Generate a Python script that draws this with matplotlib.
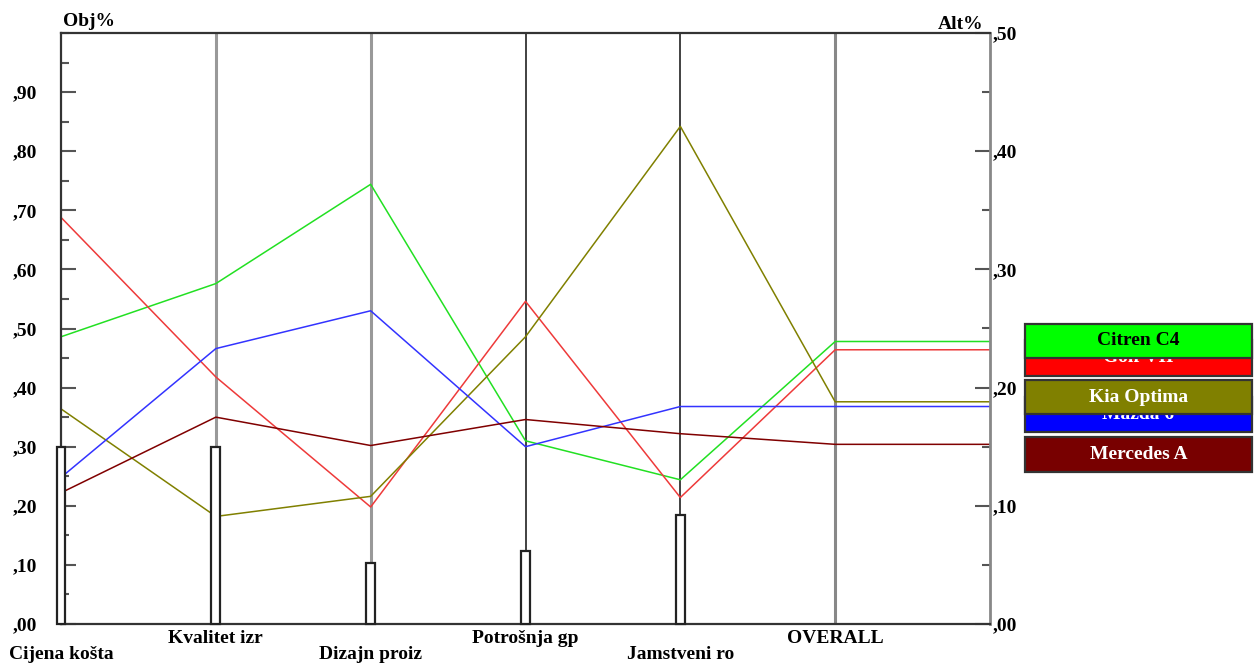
import matplotlib
matplotlib.use("Agg")
import matplotlib.pyplot as plt
from matplotlib.patches import Rectangle
from matplotlib.ticker import MultipleLocator, FuncFormatter, FixedLocator

# criteria along the x axis and their weights (left axis, Obj%)
criteria = ["Cijena košta", "Kvalitet izr", "Dizajn proiz", "Potrošnja gp", "Jamstveni ro", "OVERALL"]
obj_weights = [0.30, 0.30, 0.103, 0.124, 0.185]

# alternative priorities per criterion (right axis, Alt%), last value = overall
alternatives = ["Citren C4", "Golf VII", "Kia Optima", "Mazda 6", "Mercedes A"]
citren = [0.243, 0.288, 0.372, 0.155, 0.122, 0.239]
golf = [0.344, 0.209, 0.099, 0.273, 0.107, 0.232]
kia = [0.182, 0.091, 0.108, 0.243, 0.421, 0.188]
mazda = [0.124, 0.233, 0.265, 0.150, 0.184, 0.184]
mercedes = [0.111, 0.175, 0.151, 0.173, 0.161, 0.152]

line_colors = ["#22e022", "#ee3a3a", "#808000", "#3333ff", "#800000"]
box_colors = ["#00ff00", "#ff0000", "#808000", "#0000ff", "#780000"]
text_colors = ["black", "white", "white", "white", "white"]

font = dict(family="Liberation Serif", weight="bold", size=14)

fig = plt.figure(figsize=(12.56, 6.64), dpi=100)
W, H = 1256.0, 664.0
ax = fig.add_axes([61 / W, 40 / H, 929 / W, 591 / H])
ax2 = ax.twinx()
ax.set_zorder(ax2.get_zorder() + 1)
ax.patch.set_visible(False)

ax.set_xlim(0, 6)
ax.set_ylim(0, 1)
ax2.set_ylim(0, 0.5)
ax.set_xticks([])

fmt = FuncFormatter(lambda v, p: ("%.2f" % v).replace("0.", ",", 1))

# left axis
ax.yaxis.set_major_locator(FixedLocator([i / 10 for i in range(10)]))
ax.yaxis.set_minor_locator(MultipleLocator(0.05))
ax.yaxis.set_major_formatter(fmt)
ax.tick_params(axis="y", which="major", direction="in", length=11, width=1.5,
               color="#555555", pad=17, labelsize=14)
ax.tick_params(axis="y", which="minor", direction="in", length=5.5, width=1.5, color="#555555")
for lab in ax.get_yticklabels():
    lab.set_fontfamily("Liberation Serif")
    lab.set_fontweight("bold")

# right axis
ax2.yaxis.set_major_locator(MultipleLocator(0.1))
ax2.yaxis.set_minor_locator(MultipleLocator(0.05))
ax2.yaxis.set_major_formatter(fmt)
ax2.tick_params(axis="y", which="major", direction="in", length=11, width=1.5,
                color="#555555", pad=2, labelsize=14)
ax2.tick_params(axis="y", which="minor", direction="in", length=5.5, width=1.5, color="#555555")
for lab in ax2.get_yticklabels():
    lab.set_fontfamily("Liberation Serif")
    lab.set_fontweight("bold")

for sp in ["top", "left", "bottom"]:
    ax.spines[sp].set_color("#333333")
    ax.spines[sp].set_linewidth(1.6)
ax.spines["right"].set_visible(False)
for sp in ["top", "left", "bottom"]:
    ax2.spines[sp].set_visible(False)
ax2.spines["right"].set_color("#888888")
ax2.spines["right"].set_linewidth(2)

# vertical criterion lines
vcolors = ["#999999", "#999999", "#333333", "#333333", "#888888"]
vwidths = [2.2, 2.2, 1.3, 1.3, 2.2]
for i in range(1, len(criteria)):
    ax2.axvline(i, color=vcolors[i - 1], lw=vwidths[i - 1], zorder=1)

# alternative lines
series = [citren, golf, kia, mazda, mercedes]
xs = list(range(len(criteria))) + [6]
for vals, c in zip(series, line_colors):
    ax2.plot(xs, vals + [vals[-1]], color=c, lw=1.1, zorder=2, clip_on=False)

# criterion weight bars
ax.bar(range(len(obj_weights)), obj_weights, width=0.058, color="white",
       edgecolor="#222222", linewidth=1.6, zorder=3, clip_on=False)

# bottom labels, staggered
for i, name in enumerate(criteria):
    y = -0.052 if i % 2 == 0 else -0.024
    ax.text(i, y, name, transform=ax.get_xaxis_transform(), ha="center", va="center",
            **font)

ax.text(0.01, 1.019, "Obj%", transform=ax.get_xaxis_transform(), ha="left", va="center", **font)
ax.text(5.955, 1.014, "Alt%", transform=ax.get_xaxis_transform(), ha="right", va="center", **font)

# legend boxes on the right (golf under citren, mazda under kia)
box_y = {"Citren C4": (324, 358), "Golf VII": (340, 376), "Kia Optima": (380, 414),
         "Mazda 6": (397, 432), "Mercedes A": (437, 472)}
z_order = {"Golf VII": 1, "Citren C4": 2, "Mazda 6": 3, "Kia Optima": 4, "Mercedes A": 5}
x0, x1 = 1025, 1252
for name, bc, tc in zip(alternatives, box_colors, text_colors):
    top, bot = box_y[name]
    z = z_order[name]
    fig.patches.append(Rectangle((x0 / W, 1 - bot / H), (x1 - x0) / W, (bot - top) / H,
                                 transform=fig.transFigure, facecolor=bc,
                                 edgecolor="#333333", lw=1.6, zorder=z))
    fig.text((x0 + x1) / 2 / W, 1 - (top + bot) / 2 / H, name, color=tc, ha="center",
             va="center", zorder=z + 0.5, **font)

fig.savefig("out.png", dpi=100)
